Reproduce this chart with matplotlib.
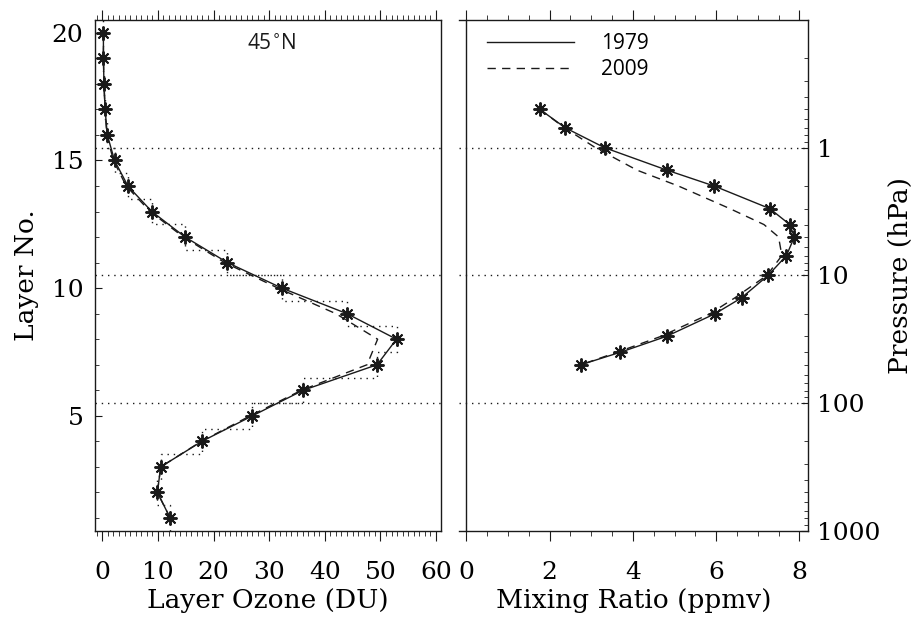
import numpy as np
import matplotlib
matplotlib.use('Agg')
import matplotlib.pyplot as plt
from matplotlib.ticker import MultipleLocator, FixedLocator, LogLocator, NullFormatter

plt.rcParams['font.family'] = 'DejaVu Serif'

# data ------------------------------------------------------------------------------
layers = np.arange(1, 21)
ozone_1979 = [12.2, 9.9, 10.5, 17.9, 27.0, 36.1, 49.4, 52.9, 44.0, 32.3,
              22.5, 14.9, 8.9, 4.6, 2.2, 0.9, 0.5, 0.3, 0.2, 0.2]
ozone_2009 = [12.2, 9.9, 10.5, 17.8, 26.6, 35.8, 47.6, 49.5, 42.0, 31.6,
              22.0, 14.6, 8.6, 4.3, 2.0, 0.8, 0.5, 0.3, 0.2, 0.2]

pressure = [0.5, 0.7, 1, 1.5, 2, 3, 4, 5, 7, 10, 15, 20, 30, 40, 50]
mr_1979 = [1.76, 2.38, 3.32, 4.82, 5.96, 7.29, 7.77, 7.88, 7.69, 7.25,
           6.61, 5.97, 4.81, 3.70, 2.76]
mr_2009 = [1.76, 2.36, 3.10, 4.10, 5.10, 6.33, 7.15, 7.50, 7.58, 7.22,
           6.45, 5.85, 4.68, 3.62, 2.76]

layer_bounds = [5.5, 10.5, 15.5]
pressure_bounds = [100, 10, 1]
pressure_ticks = [1, 10, 100, 1000]
years = ['1979', '2009']
region = '45$^{\\circ}$N'

ink = '#1a1a1a'
dots = (0, (1, 3.5))
dashes = (0, (6, 4.5))
star = (8, 2, 0)
tick_fs = 18
label_fs = 19

fig = plt.figure(figsize=(9.15, 6.2), dpi=100)
ax1 = fig.add_axes([0.1033, 0.144, 0.3787, 0.8237])
ax2 = fig.add_axes([0.5016, 0.144, 0.3811, 0.8237])

# left panel: layer ozone -----------------------------------------------------------
step_x = np.repeat(ozone_1979, 2)
step_y = np.ravel([[l - 0.5, l + 0.5] for l in layers])
ax1.plot(step_x, step_y, ls=dots, color=ink, lw=1)
for b in layer_bounds:
    ax1.axhline(b, ls=dots, color=ink, lw=1)
ax1.plot(ozone_2009, layers, ls=dashes, color=ink, lw=1)
ax1.plot(ozone_1979, layers, '-', color=ink, lw=1, marker=star, ms=10, mew=1.4)

ax1.set_xlim(-1.4, 60.9)
ax1.set_ylim(0.5, 20.5)
ax1.xaxis.set_major_locator(MultipleLocator(10))
ax1.xaxis.set_minor_locator(MultipleLocator(1))
ax1.yaxis.set_major_locator(MultipleLocator(5))
ax1.yaxis.set_minor_locator(MultipleLocator(1))
ax1.tick_params(axis='x', which='both', top=True, bottom=True, direction='out',
                labelsize=tick_fs, pad=15, color=ink)
ax1.tick_params(axis='x', which='major', length=7)
ax1.tick_params(axis='x', which='minor', length=3.5)
ax1.tick_params(axis='y', which='both', left=True, right=False, direction='in',
                labelsize=tick_fs, pad=8, color=ink)
ax1.tick_params(axis='y', which='major', length=5)
ax1.tick_params(axis='y', which='minor', length=3)
ax1.set_xlabel('Layer Ozone (DU)', fontsize=label_fs, labelpad=3)
ax1.set_ylabel('Layer No.', fontsize=label_fs, labelpad=9)
ax1.text(0.512, 0.955, region, transform=ax1.transAxes, ha='center', va='center',
         fontsize=15, family='Open Sans', color=ink)

# right panel: mixing ratio ----------------------------------------------------------
for b in pressure_bounds:
    ax2.axhline(b, ls=dots, color=ink, lw=1)
ax2.plot(mr_1979, pressure, '-', color=ink, lw=1, label=years[0])
ax2.plot(mr_2009, pressure, ls=dashes, color=ink, lw=1, label=years[1])
ax2.plot(mr_1979, pressure, ls='none', color=ink, marker=star, ms=10, mew=1.4)

ax2.set_yscale('log')
ax2.set_ylim(1000, 0.1)
ax2.set_xlim(-0.18, 8.2)
ax2.spines['left'].set_position(('data', 0))
ax2.xaxis.set_major_locator(MultipleLocator(2))
ax2.xaxis.set_minor_locator(MultipleLocator(0.5))
ax2.yaxis.set_major_locator(FixedLocator(pressure_ticks))
ax2.yaxis.set_minor_locator(LogLocator(subs=np.arange(2, 10)))
ax2.yaxis.set_minor_formatter(NullFormatter())
ax2.set_yticklabels([str(p) for p in pressure_ticks])
ax2.yaxis.set_label_position('right')
ax2.tick_params(axis='x', which='both', top=True, bottom=True, direction='out',
                labelsize=tick_fs, pad=15, color=ink)
ax2.tick_params(axis='x', which='major', length=7)
ax2.tick_params(axis='x', which='minor', length=3.5)
ax2.tick_params(axis='y', which='both', left=False, right=True, labelleft=False,
                labelright=True, direction='in', labelsize=tick_fs, pad=7, color=ink)
ax2.tick_params(axis='y', which='major', length=5)
ax2.tick_params(axis='y', which='minor', length=3)
ax2.set_xlabel('Mixing Ratio (ppmv)', fontsize=label_fs, labelpad=3)
ax2.set_ylabel('Pressure (hPa)', fontsize=label_fs, labelpad=5)

leg = ax2.legend(loc='upper left', bbox_to_anchor=(0.079, 0.975), frameon=False,
                 handlelength=4.2, handletextpad=1.3, labelspacing=0.25,
                 borderpad=0, borderaxespad=0, prop={'family': 'Open Sans', 'size': 15})

for ax in (ax1, ax2):
    for s in ax.spines.values():
        s.set_color(ink)
        s.set_linewidth(1)

fig.savefig('out.png', dpi=100)
